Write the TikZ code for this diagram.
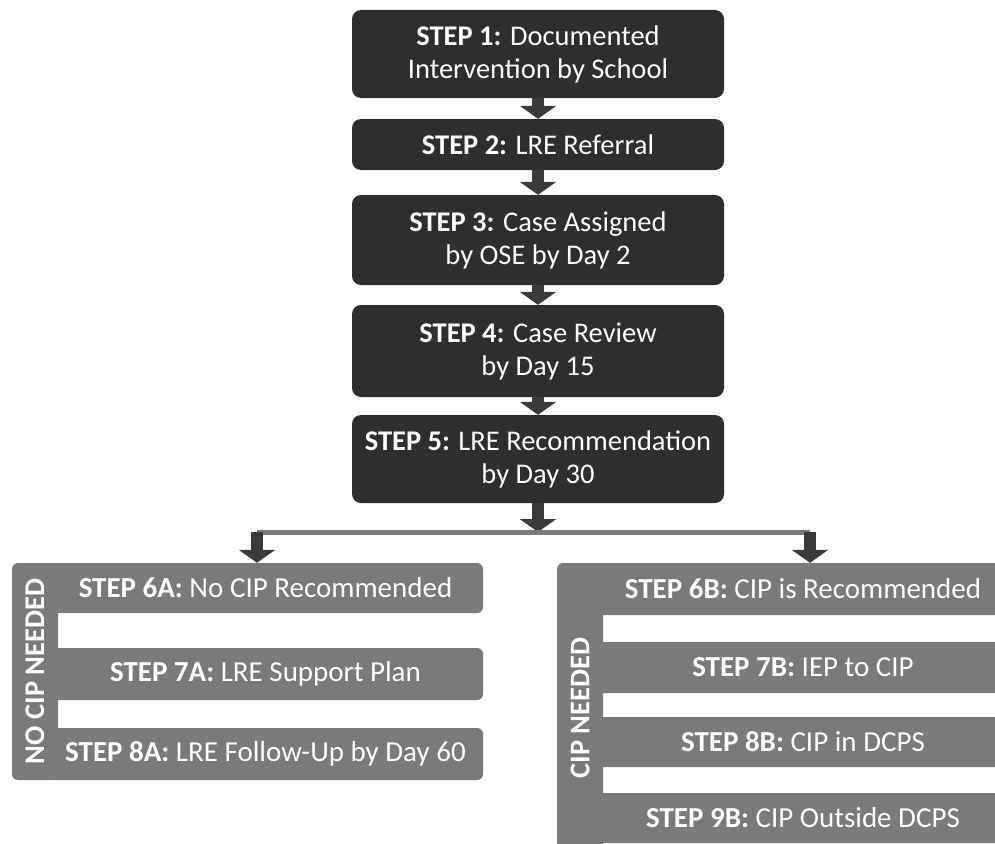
\documentclass[tikz,border=0pt]{standalone}
\usepackage{fontspec}
\setmainfont{Carlito}
\usetikzlibrary{arrows.meta}
\definecolor{stepdark}{HTML}{2E2E2E}
\definecolor{groupgray}{HTML}{7A7A7A}
\definecolor{arrowgray}{HTML}{3A3A3A}
\begin{document}
\begin{tikzpicture}[x=1pt, y=-1pt,
    topbox/.style={fill=stepdark, rounded corners=9pt, text=white, align=center, minimum width=372pt, inner sep=0pt, font=\fontsize{28.5}{33}\selectfont},
    subbox/.style={fill=groupgray, rounded corners=6pt, text=white, inner sep=0pt, font=\fontsize{29}{33}\selectfont},
    sidebar/.style={fill=groupgray, rounded corners=6pt, text=white, inner sep=0pt, rotate=90, minimum height=46pt, font=\fontsize{28.5}{33}\selectfont\bfseries},
    blockarrow/.style={draw=arrowgray, line width=12pt, -{Triangle[width=36pt,length=13pt]}},
    barline/.style={draw=groupgray, line width=5pt}]
        \useasboundingbox (0,0) rectangle (995,843);

        \node[topbox, minimum height=88pt] (s1) at (538,54) {\textbf{STEP 1:} Documented\\Intervention by School};
        \node[topbox, minimum height=51pt] (s2) at (538,144.5) {\textbf{STEP 2:} LRE Referral};
        \node[topbox, minimum height=90pt] (s3) at (538,240) {\textbf{STEP 3:} Case Assigned\\by OSE by Day 2};
        \node[topbox, minimum height=92pt] (s4) at (538,351) {\textbf{STEP 4:} Case Review\\by Day 15};
        \node[topbox, minimum height=88pt] (s5) at (538,459) {\textbf{STEP 5:} LRE Recommendation\\by Day 30};

        \node[subbox, minimum width=435pt, minimum height=50pt] (a6) at (265.5,588) {\textbf{STEP 6A:} No CIP Recommended};
        \node[subbox, minimum width=435pt, minimum height=52pt] (a7) at (265.5,674) {\textbf{STEP 7A:} LRE Support Plan};
        \node[subbox, minimum width=435pt, minimum height=52pt] (a8) at (265.5,754) {\textbf{STEP 8A:} LRE Follow-Up by Day 60};
        \node[sidebar, minimum width=217pt] (na) at (35,671.5) {NO CIP NEEDED};

        \node[subbox, minimum width=420pt, minimum height=52pt] (b6) at (803,589) {\textbf{STEP 6B:} CIP is Recommended};
        \node[subbox, minimum width=420pt, minimum height=51pt] (b7) at (803,667.5) {\textbf{STEP 7B:} IEP to CIP};
        \node[subbox, minimum width=420pt, minimum height=50pt] (b8) at (803,742) {\textbf{STEP 8B:} CIP in DCPS};
        \node[subbox, minimum width=420pt, minimum height=50pt] (b9) at (803,818) {\textbf{STEP 9B:} CIP Outside DCPS};
        \node[sidebar, minimum width=290pt] (nb) at (580,708) {CIP NEEDED};

        \coordinate (split) at (538,532);
        \coordinate (bl) at (257,532);
        \coordinate (br) at (810,532);

        \draw[blockarrow] (s1) -- (s2);
        \draw[blockarrow] (s2) -- (s3);
        \draw[blockarrow] (s3) -- (s4);
        \draw[blockarrow] (s4) -- (s5);
        \draw[blockarrow] (s5) -- (split);
        \draw[barline] (bl) -- (br);
        \draw[blockarrow] (bl) -- (a6.north -| bl);
        \draw[blockarrow] (br) -- (b6.north -| br);
      \end{tikzpicture}
\end{document}
